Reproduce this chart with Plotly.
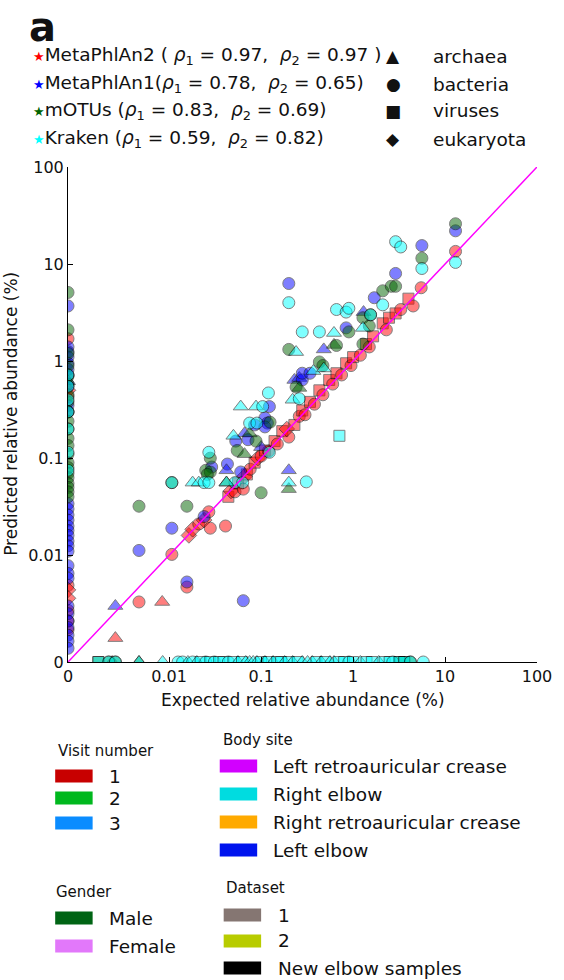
import plotly.graph_objects as go

# "0" is drawn at this position on both log axes
ZERO_POS = 10 ** -3.1

tools = ["MetaPhlAn2", "MetaPhlAn1", "mOTUs", "Kraken"]
tool_colors = ["#ff0000", "#0000ff", "#006400", "#00ffff"]
rho1 = [0.97, 0.78, 0.83, 0.59]
rho2 = [0.97, 0.65, 0.69, 0.82]

kingdoms = ["archaea", "bacteria", "viruses", "eukaryota"]
kingdom_symbols = {"a": "triangle-up", "b": "circle", "v": "square", "e": "diamond"}
kingdom_sizes = {"a": 13, "b": 12, "v": 11, "e": 12}
kingdom_glyphs = ["▲", "●", "■", "◆"]

tick_vals = [0, 0.01, 0.1, 1, 10, 100]
tick_text = ["0", "0.01", "0.1", "1", "10", "100"]

# MetaPhlAn2 (red)
m2_expected = [0.0107, 0.0164, 0.018, 0.021, 0.024, 0.027, 0.028, 0.041, 0.044, 0.047,
               0.052, 0.056, 0.064, 0.066, 0.07, 0.076, 0.085, 0.092, 0.1, 0.11,
               0.12, 0.14, 0.15, 0.17, 0.2, 0.19, 0.23, 0.26, 0.28, 0.3,
               0.34, 0.38, 0.43, 0.47, 0.55, 0.6, 0.66, 0.75, 0.84, 0.95,
               1.0, 1.2, 1.38, 1.5, 1.65, 2.1, 2.3, 2.46, 2.9, 3.3,
               4.0, 4.5, 5.5, 13, 0.0047, 0.0084, 0.0026, 0.0156, 0.0024,
               0, 0, 0, 0, 0, 0, 0, 0, 0]
m2_predicted = [0.0102, 0.016, 0.0185, 0.021, 0.023, 0.028, 0.019, 0.02, 0.04, 0.046,
                0.045, 0.055, 0.048, 0.065, 0.068, 0.077, 0.09, 0.1, 0.105, 0.12,
                0.118, 0.15, 0.14, 0.19, 0.165, 0.2, 0.22, 0.27, 0.31, 0.28,
                0.38, 0.36, 0.5, 0.45, 0.64, 0.58, 0.75, 0.72, 0.95, 0.9,
                1.1, 1.15, 1.5, 1.4, 1.8, 2.45, 2.1, 2.8, 3.1, 3.4,
                4.4, 3.7, 5.7, 13.5, 0.0033, 0.0033, 0.0014, 0.0047, 0,
                1.7, 0.5, 0.43, 0.0049, 0.0044, 0.0036, 0.0027, 0.0021, 0.0017]
m2_kingdom = ["b", "e", "e", "b", "e", "b", "b", "b", "v", "e",
              "b", "v", "b", "e", "v", "b", "v", "e", "b", "v",
              "b", "v", "b", "v", "b", "e", "v", "b", "v", "b",
              "v", "b", "v", "b", "v", "b", "v", "b", "v", "b",
              "v", "b", "v", "b", "v", "v", "b", "v", "v", "b",
              "v", "b", "b", "b", "b", "a", "a", "b", "a",
              "b", "e", "b", "b", "e", "e", "b", "b", "b"]

# MetaPhlAn1 (blue)
m1_expected = [0.2, 0.0107, 0.0047, 0.0026, 0.0156, 0.064, 0.029, 0.043, 0.042, 0.053,
               0.066, 0.072, 0.11, 0.117, 0.123, 0.024, 0.2, 0.23, 0.26, 0.28,
               0.28, 0.34, 0.48, 0.84, 1.3, 1.7, 2.9, 5.6, 13, 0.06,
               0.1, 0.085, 0.11,
               0, 0, 0, 0, 0, 0, 0, 0, 0, 0, 0, 0, 0, 0, 0, 0, 0, 0, 0, 0,
               0, 0, 0, 0, 0, 0, 0, 0, 0, 0, 0]
m1_predicted = [6.3, 0.019, 0.0112, 0.003, 0.0053, 0.0034, 0.081, 0.087, 0.075, 0.15,
                0.18, 0.155, 0.26, 0.23, 0.34, 0.025, 0.075, 0.64, 0.67, 0.64,
                0.75, 0.75, 1.32, 2.2, 3.2, 4.5, 8.0, 15.5, 22, 0.072,
                0.13, 0.22, 0.21,
                3.7, 1.4, 1.25, 1.1, 0.95, 0.82, 0.72, 0.62, 0.55, 0.35, 0.3, 0.034,
                0.03, 0.026, 0.023, 0.02, 0.018, 0.016, 0.014, 0.0125, 0.011, 0.0078,
                0.0065, 0.0058, 0.003, 0.0025, 0.0021, 0.0018, 0.0015, 0.0013, 0.0011, 0.00095]
m1_kingdom = ["b", "b", "b", "a", "b", "b", "b", "b", "a", "b",
              "a", "b", "b", "b", "b", "b", "a", "a", "a", "b",
              "b", "b", "a", "b", "a", "b", "b", "b", "b", "b",
              "a", "b", "b",
              "b", "b", "b", "b", "b", "b", "b", "a", "b", "b", "b", "b",
              "b", "b", "b", "b", "b", "b", "b", "b", "b", "b",
              "b", "b", "b", "b", "b", "b", "b", "b", "b", "b"]

# mOTUs (dark green)
mo_expected = [0.0047, 0.0156, 0.0107, 0.028, 0.025, 0.028, 0.026, 0.055, 0.066, 0.088,
               0.075, 0.042, 0.1, 0.125, 0.2, 0.2, 0.24, 0.26, 0.43, 0.47,
               0.62, 0.66, 0.9, 1.28, 1.5, 1.55, 2.1, 2.6, 2.9, 5.6,
               13, 1.28,
               0, 0, 0, 0, 0, 0, 0, 0, 0, 0, 0, 0, 0, 0, 0, 0, 0, 0, 0, 0, 0, 0,
               0.0017, 0.0022, 0.0026, 0.0047, 3.2, 3.6, 4.2]
mo_predicted = [0.032, 0.032, 0.056, 0.1, 0.075, 0.072, 0.068, 0.12, 0.11, 0.15,
                0.18, 0.056, 0.044, 0.235, 0.048, 1.32, 0.54, 0.53, 0.98, 0.9,
                1.47, 1.45, 2.0, 2.8, 2.3, 3.0, 5.3, 5.9, 5.9, 11.5,
                26, 1.5,
                5.1, 2.1, 1.2, 0.9, 0.7, 0.58, 0.45, 0.38, 0.3, 0.24, 0.2, 0.16,
                0.135, 0.11, 0.09, 0.08, 0.07, 0.063, 0.055, 0.05, 0.045, 0.04,
                0, 0, 0, 0, 0, 0, 0]
mo_kingdom = ["b", "b", "b", "b", "b", "b", "b", "b", "a", "b",
              "a", "a", "b", "b", "a", "b", "b", "a", "b", "b",
              "a", "b", "b", "b", "b", "b", "b", "b", "b", "b",
              "b", "b",
              "b", "b", "b", "b", "b", "b", "b", "b", "b", "b", "b", "b",
              "b", "b", "b", "b", "b", "b", "b", "b", "b", "b",
              "v", "b", "b", "a", "v", "v", "b"]

# Kraken (cyan)
kr_expected = [0.0107, 0.027, 0.018, 0.021, 0.024, 0.027, 0.05, 0.06, 0.088, 0.104,
               0.075, 0.09, 0.052, 0.063, 0.042, 0.123, 0.2, 0.31, 0.71, 0.2,
               0.12, 0.22, 0.26, 0.24, 0.28, 0.43, 0.62, 0.37, 0.48, 0.66,
               0.84, 0.9, 1.28, 2.1, 1.55, 2.9, 3.3, 5.6, 13,
               0, 0, 0, 0, 0, 0, 0,
               0.0017, 0.0022, 0.0026, 0.0047, 0.0085, 0.0125, 0.014, 0.016, 0.018, 0.02,
               0.022, 0.025, 0.028, 0.031, 0.035, 0.039, 0.044, 0.05, 0.056, 0.062,
               0.068, 0.075, 0.082, 0.09, 0.1, 0.11, 0.12, 0.135, 0.15, 0.165,
               0.18, 0.2, 0.22, 0.25, 0.28, 0.32, 0.36, 0.4, 0.45, 0.5,
               0.56, 0.62, 0.7, 0.8, 0.9, 1.0, 1.2, 1.4, 1.6, 1.9,
               2.2, 2.5, 2.7, 3.2, 3.6, 4.2, 5.8]
kr_predicted = [0.056, 0.115, 0.056, 0.056, 0.056, 0.056, 0.17, 0.34, 0.34, 0.34,
                0.23, 0.23, 0.056, 0.056, 0.056, 0.115, 0.056, 0.057, 0.17, 4.0,
                0.47, 0.4, 0.41, 1.24, 2.0, 2.0, 1.95, 0.79, 0.84, 3.4,
                3.2, 3.5, 2.2, 3.8, 3.0, 17, 15, 9.0, 10.4,
                0.72, 0.55, 0.4, 0.3, 0.2, 0.115, 0.075,
                0, 0, 0, 0, 0, 0, 0, 0, 0, 0,
                0, 0, 0, 0, 0, 0, 0, 0, 0, 0,
                0, 0, 0, 0, 0, 0, 0, 0, 0, 0,
                0, 0, 0, 0, 0, 0, 0, 0, 0, 0,
                0, 0, 0, 0, 0, 0, 0, 0, 0, 0,
                0, 0, 0, 0, 0, 0, 0]
kr_kingdom = ["b", "b", "a", "a", "b", "b", "a", "a", "a", "b",
              "b", "b", "b", "b", "a", "b", "a", "b", "v", "b",
              "b", "a", "b", "a", "b", "b", "a", "a", "a", "b",
              "b", "b", "a", "b", "b", "b", "b", "b", "b",
              "b", "b", "b", "b", "b", "b", "b",
              "v", "b", "b", "a", "a", "b", "b", "a", "b", "a",
              "v", "b", "v", "b", "v", "v", "b", "v", "a", "v",
              "a", "a", "a", "a", "v", "a", "v", "a", "v", "v",
              "a", "v", "a", "v", "a", "a", "a", "v", "a", "v",
              "a", "a", "v", "v", "b", "v", "a", "v", "v", "a",
              "v", "v", "b", "v", "v", "b", "b"]

# extra legend blocks below the plot
visit_labels = ["1", "2", "3"]
visit_colors = ["#c80000", "#00b81e", "#0a8cff"]
site_labels = ["Left retroauricular crease", "Right elbow", "Right retroauricular crease", "Left elbow"]
site_colors = ["#d200ff", "#00dce0", "#ffaa00", "#0014ee"]
gender_labels = ["Male", "Female"]
gender_colors = ["#006414", "#e278fa"]
dataset_labels = ["1", "2", "New elbow samples"]
dataset_colors = ["#857672", "#b8cc00", "#000000"]

series = [(m2_expected, m2_predicted, m2_kingdom),
          (m1_expected, m1_predicted, m1_kingdom),
          (mo_expected, mo_predicted, mo_kingdom),
          (kr_expected, kr_predicted, kr_kingdom)]

# plot area in pixels
L, R, T, B = 68, 544, 167, 662
W, H = 564, 980


def px(x):
    return (x - L) / (R - L)


def py(y):
    return (B - y) / (B - T)


def place(v):
    return [ZERO_POS if a == 0 else a for a in v]


fig = go.Figure()

for name, color, (ex, pr, kd) in zip(tools, tool_colors, series):
    fig.add_trace(go.Scatter(
        x=place(ex), y=place(pr), mode="markers", name=name,
        marker=dict(color=color, opacity=0.5,
                    symbol=[kingdom_symbols[k] for k in kd],
                    size=[kingdom_sizes[k] for k in kd],
                    line=dict(color="black", width=1)),
        showlegend=False,
    ))

# y = x reference line
fig.add_trace(go.Scatter(x=[ZERO_POS, 100], y=[ZERO_POS, 100], mode="lines",
                         line=dict(color="#ff00ff", width=1.5), showlegend=False))

axis_style = dict(type="log", range=[-3.1, 2], tickvals=place(tick_vals), ticktext=tick_text,
                  ticks="inside", ticklen=5, tickcolor="black", showline=True,
                  linecolor="black", linewidth=1, showgrid=False, zeroline=False,
                  tickfont=dict(size=16, color="#111"))
fig.update_xaxes(**axis_style)
fig.update_yaxes(**axis_style)

ann = []
shapes = []


def text(x, y, s, size, anchor="left", **kw):
    ann.append(dict(x=px(x), y=py(y), xref="paper", yref="paper", text=s, showarrow=False,
                    xanchor=anchor, yanchor="middle", font=dict(size=size, color="#111"), **kw))


text(26, 27, "<b>a</b>", 40)

row_y = [56, 84, 111, 139]
for i in range(4):
    open_p = " ( " if i == 0 else ("(" if i == 1 else " (")
    close_p = " )" if i == 0 else ")"
    txt = (f"<span style='color:{tool_colors[i]};font-size:13px'>★</span>{tools[i]}"
           f"{open_p}<i>ρ</i><sub>1</sub> = {rho1[i]:.2f},  "
           f"<i>ρ</i><sub>2</sub> = {rho2[i]:.2f}{close_p}")
    text(30, row_y[i], txt, 18.5)
    text(398, row_y[i], kingdom_glyphs[i], 17, anchor="center")
    text(436, row_y[i], kingdoms[i], 18.5)

text(306, 700, "Expected relative abundance (%)", 17, anchor="center")
text(10, 414, "Predicted relative abundance (%)", 17, anchor="center", textangle=-90)


def block(title, tx, ty, labels, colors, x0, ys, lx):
    text(tx, ty, title, 15)
    for lab, col, yy in zip(labels, colors, ys):
        shapes.append(dict(type="rect", xref="paper", yref="paper", x0=px(x0), x1=px(x0 + 38),
                           y0=py(yy + 6.5), y1=py(yy - 6.5), fillcolor=col, line=dict(width=0)))
        text(lx, yy, lab, 18.5)


block("Visit number", 56, 751, visit_labels, visit_colors, 55, [776, 798, 823], 108)
block("Body site", 223, 740, site_labels, site_colors, 222, [766, 794, 822, 850], 274)
block("Gender", 54, 892, gender_labels, gender_colors, 55, [918, 946], 108)
block("Dataset", 226, 888, dataset_labels, dataset_colors, 226, [915, 941, 968], 279)

fig.update_layout(
    width=W, height=H, margin=dict(l=L, r=W - R, t=T, b=H - B),
    plot_bgcolor="white", paper_bgcolor="white",
    font=dict(family="DejaVu Sans", color="#111"),
    annotations=ann, shapes=shapes, showlegend=False,
)

fig.write_html("out.html", config={"displayModeBar": False},
               post_script="document.body.style.margin='0';")
